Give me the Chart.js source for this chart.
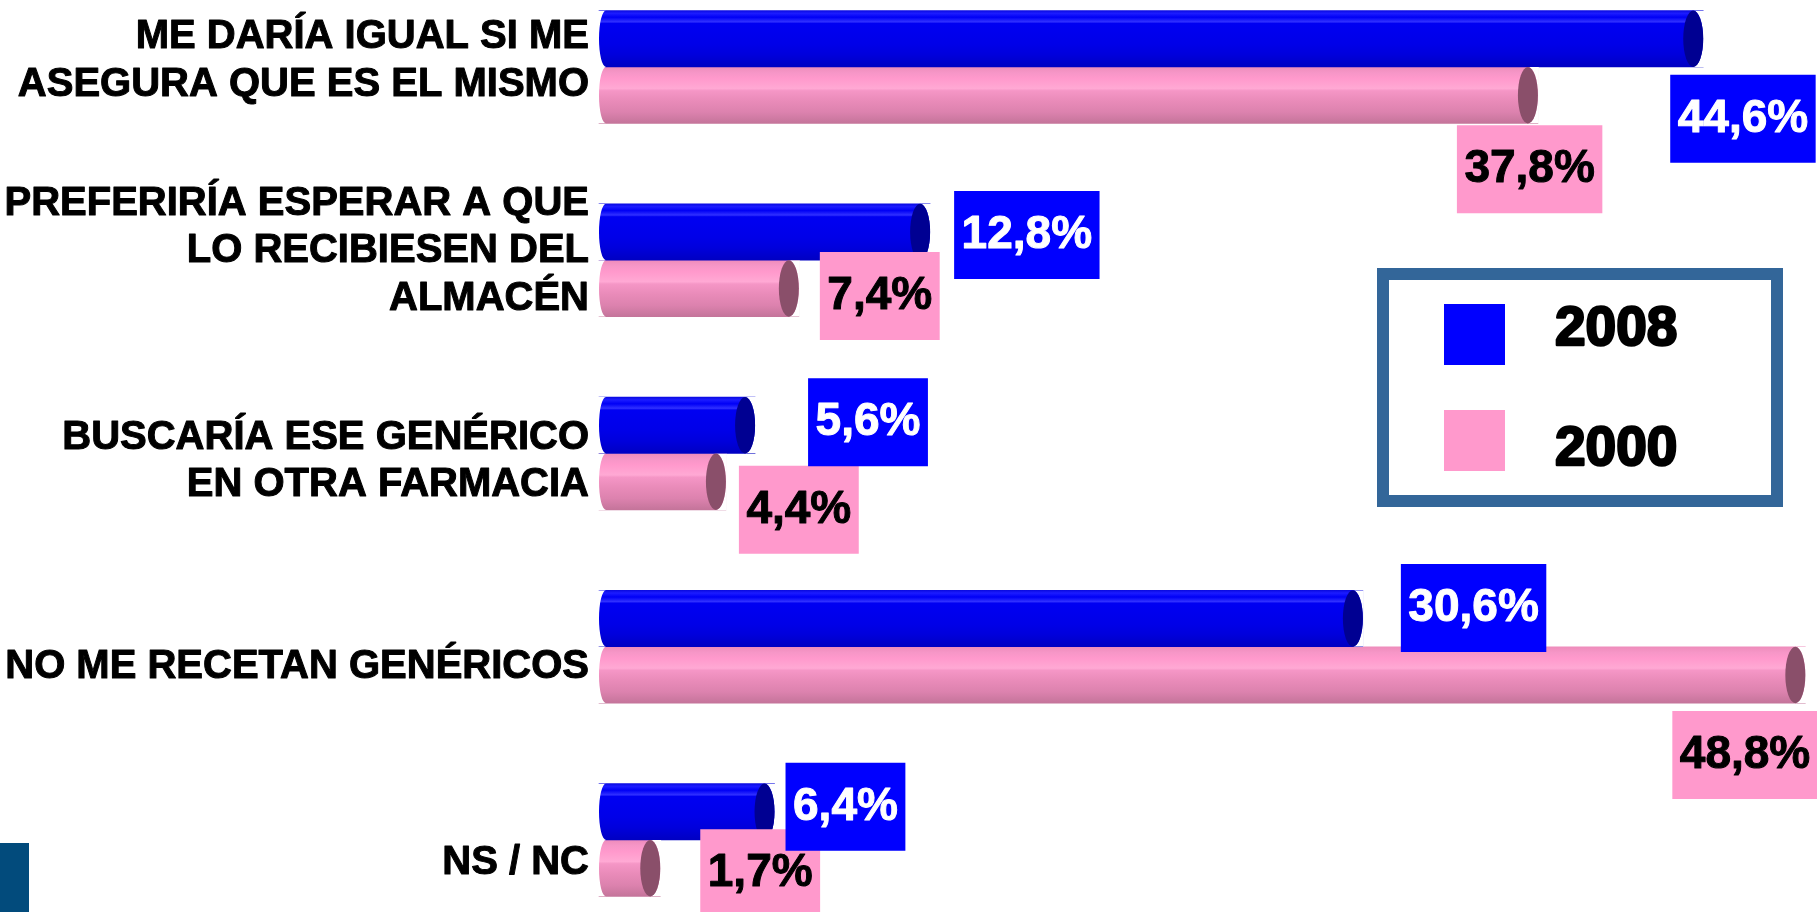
<!DOCTYPE html>
<html>
<head>
<meta charset="utf-8">
<script src="https://cdn.jsdelivr.net/npm/chart.js@4.4.1/dist/chart.umd.min.js"></script>
<style>
  html, body { margin: 0; padding: 0; background: #fff; overflow: hidden; }
  #wrap { position: relative; width: 1817px; height: 912px; }
  #corner { position: absolute; left: 0; top: 843px; width: 29px; height: 69px; background: #024b7c; }
</style>
</head>
<body>
<div id="wrap">
  <canvas id="chart"></canvas>
  <div id="corner"></div>
</div>
<script>
const categories = [
  ['ME DARÍA IGUAL SI ME', 'ASEGURA QUE ES EL MISMO'],
  ['PREFERIRÍA ESPERAR A QUE', 'LO RECIBIESEN DEL', 'ALMACÉN'],
  ['BUSCARÍA ESE GENÉRICO', 'EN OTRA FARMACIA'],
  'NO ME RECETAN GENÉRICOS',
  'NS / NC',
];
const seriesLabels = ['2008', '2000'];
const values2008 = [44.6, 12.8, 5.6, 30.6, 6.4];
const values2000 = [37.8, 7.4, 4.4, 48.8, 1.7];

const FONT = '"Liberation Sans", Arial, sans-serif';
const BAR_H = 56.5;
const X_MIN = -0.82;   // bars start a bit left of zero (cylinder depth)
const X_MAX = 49.28;
const CAP_RX = 10;
const LEFT_RX = 7;

const blueStops = [[0, '#0a0ae0'], [0.05, '#1c1cff'], [0.12, '#0000f6'], [0.2, '#3030ff'],
  [0.23, '#0000f2'], [0.6, '#0000e8'], [0.78, '#0000dc'], [1, '#0000c2']];
const pinkStops = [[0, '#ee8cbb'], [0.1, '#f696c7'], [0.2, '#ff99cc'], [0.38, '#ffa9d4'],
  [0.42, '#f596c6'], [0.6, '#e98bb9'], [0.8, '#dc82ae'], [1, '#c4749a']];

function cylinderFill(stops) {
  return c => {
    const ys = c.chart.scales.y;
    if (!ys || c.dataIndex === undefined) return stops[2][1];
    const center = ys.getPixelForValue(c.dataIndex) + (c.datasetIndex - 0.5) * BAR_H;
    if (!Number.isFinite(center)) return stops[2][1];
    const g = c.chart.ctx.createLinearGradient(0, center - BAR_H / 2, 0, center + BAR_H / 2);
    stops.forEach(([o, col]) => g.addColorStop(o, col));
    return g;
  };
}

// white out the bits of the bar rect that fall outside an ellipse (rounded ends)
function trim(ctx, rx0, top, w, h, ex, rx) {
  ctx.save();
  ctx.beginPath();
  ctx.rect(rx0, top, w, h);
  ctx.clip();
  ctx.beginPath();
  ctx.rect(rx0, top, w, h);
  ctx.ellipse(ex, top + h / 2, rx, h / 2, 0, 0, Math.PI * 2);
  ctx.fillStyle = '#fff';
  ctx.fill('evenodd');
  ctx.restore();
}

// filled text with a thin stroke, the slide uses a heavier bold than Liberation
function heavyText(ctx, txt, x, y, weight) {
  ctx.lineWidth = weight;
  ctx.strokeStyle = ctx.fillStyle;
  ctx.lineJoin = 'round';
  ctx.strokeText(txt, x, y);
  ctx.fillText(txt, x, y);
}

// category names, placed on the y scale ticks (with the slide's small nudges)
const categoryLabels = {
  id: 'categoryLabels',
  afterDraw(chart, args, o) {
    const ys = chart.scales.y;
    const ctx = chart.ctx;
    ctx.save();
    ctx.font = `bold ${o.fontSize}px ${FONT}`;
    ctx.textAlign = 'right';
    ctx.textBaseline = 'middle';
    ctx.fillStyle = '#000';
    chart.data.labels.forEach((lab, i) => {
      const lines = Array.isArray(lab) ? lab : [lab];
      const mid = ys.getPixelForTick(i) + o.nudge[i];
      lines.forEach((ln, k) => {
        const y = mid + (k - (lines.length - 1) / 2) * o.lineHeight;
        heavyText(ctx, ln, ys.right - o.padding, y, o.weight);
      });
    });
    ctx.restore();
  },
};

const cylinders = {
  id: 'cylinders',
  afterDatasetsDraw(chart, args, opts) {
    const ctx = chart.ctx;
    chart.data.datasets.forEach((ds, di) => {
      chart.getDatasetMeta(di).data.forEach(bar => {
        const { x, y, base, height } = bar.getProps(['x', 'y', 'base', 'height'], true);
        const top = y - height / 2;
        trim(ctx, base - 1, top, LEFT_RX + 1, height, base + LEFT_RX, LEFT_RX);
        trim(ctx, x - CAP_RX, top, CAP_RX + 1, height, x - CAP_RX, CAP_RX);
        ctx.save();
        ctx.fillStyle = opts.capColors[di];
        ctx.beginPath();
        ctx.ellipse(x - CAP_RX, y, CAP_RX, height / 2, 0, 0, Math.PI * 2);
        ctx.fill();
        ctx.restore();
      });
    });
  },
};

const valueBoxes = {
  id: 'valueBoxes',
  afterDraw(chart, args, opts) {
    const ctx = chart.ctx;
    ctx.save();
    ctx.font = `bold ${opts.fontSize}px ${FONT}`;
    ctx.textBaseline = 'alphabetic';
    ctx.textAlign = 'left';
    // pink first so the blue boxes sit on top
    [1, 0].forEach(di => {
      const ds = chart.data.datasets[di];
      chart.getDatasetMeta(di).data.forEach((bar, i) => {
        const txt = ds.data[i].toFixed(1).replace('.', ',') + '%';
        const [dx, dy] = opts.offsets[di][i];
        const w = ctx.measureText(txt).width + opts.padX * 2;
        const left = bar.x + dx;
        const top = bar.y + dy - opts.boxH / 2;
        ctx.fillStyle = opts.fills[di];
        ctx.fillRect(left, top, w, opts.boxH);
        ctx.fillStyle = opts.textColors[di];
        heavyText(ctx, txt, left + opts.padX, top + opts.baseline, opts.weight);
      });
    });
    ctx.restore();
  },
};

const legendBox = {
  id: 'legendBox',
  afterDraw(chart, args, o) {
    const ctx = chart.ctx;
    const bw = o.borderWidth;
    ctx.save();
    ctx.fillStyle = '#fff';
    ctx.fillRect(o.x, o.y, o.w, o.h);
    ctx.strokeStyle = o.borderColor;
    ctx.lineWidth = bw;
    ctx.strokeRect(o.x + bw / 2, o.y + bw / 2, o.w - bw, o.h - bw);
    ctx.font = `bold ${o.fontSize}px ${FONT}`;
    ctx.textBaseline = 'alphabetic';
    chart.data.datasets.forEach((ds, i) => {
      ctx.fillStyle = o.colors[i];
      ctx.fillRect(o.x + o.swatchX, o.y + o.swatchTop[i], o.swatch, o.swatch);
      ctx.fillStyle = '#000';
      heavyText(ctx, ds.label, o.x + o.textX, o.y + o.textBase[i], o.weight);
    });
    ctx.restore();
  },
};

new Chart(document.getElementById('chart'), {
  type: 'bar',
  data: {
    labels: categories,
    datasets: [
      { label: seriesLabels[0], data: values2008, backgroundColor: cylinderFill(blueStops) },
      { label: seriesLabels[1], data: values2000, backgroundColor: cylinderFill(pinkStops) },
    ],
  },
  options: {
    indexAxis: 'y',
    responsive: true,
    maintainAspectRatio: false,
    animation: false,
    events: [],
    layout: { padding: { top: 67, bottom: 72, left: 0, right: 0 } },
    datasets: {
      bar: { barThickness: BAR_H, base: X_MIN, borderWidth: 0, clip: false },
    },
    scales: {
      x: { type: 'linear', display: false, min: X_MIN, max: X_MAX },
      y: {
        type: 'category',
        offset: false,
        grid: { display: false, drawTicks: false },
        border: { display: false },
        ticks: { display: false, autoSkip: false },
        afterFit: s => { s.width = 599; },
      },
    },
    plugins: {
      legend: { display: false },
      tooltip: { enabled: false },
      categoryLabels: {
        fontSize: 40,
        lineHeight: 47.5,
        padding: 10,
        weight: 1,
        nudge: [-6, -9, 8, 20, 23],
      },
      cylinders: { capColors: ['#000092', '#8a4f6a'] },
      valueBoxes: {
        fontSize: 46,
        weight: 1,
        padX: 7.5,
        boxH: 88,
        baseline: 57,
        fills: ['#0000ff', '#ff99cc'],
        textColors: ['#fff', '#000'],
        // [dx from bar end, dy from bar centre] – hand placed like the original slide
        offsets: [
          [[-33, 80], [24, 3], [53, -3], [38, -10.5], [11, -5]],
          [[-81, 74], [21, 7.5], [13, 28], [-133, 80], [40, 5]],
        ],
      },
      legendBox: {
        x: 1377, y: 268, w: 406, h: 239,
        borderWidth: 12, borderColor: '#336699',
        swatchX: 67, swatch: 61, swatchTop: [36, 142],
        textX: 178, textBase: [77, 197],
        fontSize: 55,
        weight: 2.5,
        colors: ['#0000ff', '#ff99cc'],
      },
    },
  },
  plugins: [categoryLabels, cylinders, valueBoxes, legendBox],
});
</script>
</body>
</html>
